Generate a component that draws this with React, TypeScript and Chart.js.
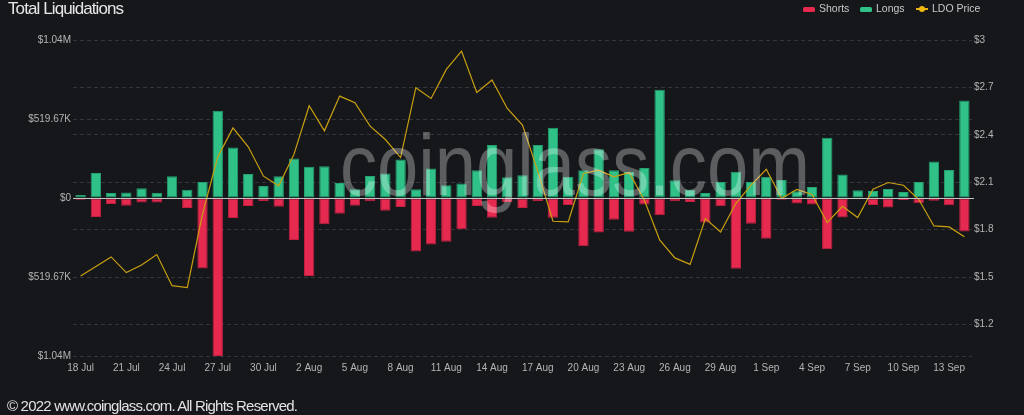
import React, { useEffect, useRef } from "react";
import { Chart, registerables } from "chart.js";

Chart.register(...registerables);

// ---- data ----
const DATES = [
  "18 Jul", "19 Jul", "20 Jul", "21 Jul", "22 Jul", "23 Jul", "24 Jul", "25 Jul", "26 Jul", "27 Jul",
  "28 Jul", "29 Jul", "30 Jul", "31 Jul", "1 Aug", "2 Aug", "3 Aug", "4 Aug", "5 Aug", "6 Aug",
  "7 Aug", "8 Aug", "9 Aug", "10 Aug", "11 Aug", "12 Aug", "13 Aug", "14 Aug", "15 Aug", "16 Aug",
  "17 Aug", "18 Aug", "19 Aug", "20 Aug", "21 Aug", "22 Aug", "23 Aug", "24 Aug", "25 Aug", "26 Aug",
  "27 Aug", "28 Aug", "29 Aug", "30 Aug", "31 Aug", "1 Sep", "2 Sep", "3 Sep", "4 Sep", "5 Sep",
  "6 Sep", "7 Sep", "8 Sep", "9 Sep", "10 Sep", "11 Sep", "12 Sep", "13 Sep", "14 Sep",
];

// USD thousands
const LONGS_K = [
  20, 165, 33, 37, 64, 35, 143, 55, 106, 574,
  332, 158, 79, 143, 260, 205, 209, 99, 57, 145,
  161, 253, 57, 194, 84, 95, 183, 348, 136, 150,
  348, 462, 139, 183, 321, 183, 172, 198, 712, 117,
  55, 33, 106, 172, 106, 139, 119, 44, 73, 396,
  154, 51, 46, 59, 40, 106, 240, 185, 642,
];

// USD thousands (drawn below zero)
const SHORTS_K = [
  11, 125, 40, 51, 29, 29, 9, 66, 464, 1039.34,
  132, 53, 20, 57, 277, 513, 172, 103, 51, 22,
  84, 59, 352, 306, 288, 205, 53, 130, 26, 66,
  20, 130, 46, 317, 227, 143, 222, 42, 114, 22,
  26, 161, 55, 466, 169, 268, 11, 37, 42, 337,
  128, 9, 46, 62, 13, 35, 18, 48, 220,
];

const LDO_PRICE = [
  1.506, 1.566, 1.627, 1.528, 1.576, 1.642, 1.445, 1.433, 1.9, 2.26,
  2.444, 2.324, 2.138, 2.077, 2.276, 2.584, 2.425, 2.645, 2.603, 2.455,
  2.37, 2.256, 2.698, 2.63, 2.814, 2.93, 2.668, 2.747, 2.567, 2.461,
  2.17, 1.853, 1.849, 2.155, 2.176, 2.134, 2.161, 1.986, 1.735, 1.621,
  1.58, 1.87, 1.785, 1.965, 2.081, 2.182, 1.997, 2.054, 2.022, 1.845,
  1.948, 1.876, 2.056, 2.098, 2.081, 1.992, 1.823, 1.817, 1.754,
];

const LEFT_TICKS = [-1039340, -519670, 0, 519670, 1039340];
const LEFT_TICK_LABELS = ["$1.04M", "$519.67K", "$0", "$519.67K", "$1.04M"];
const RIGHT_TICKS = [1.2, 1.5, 1.8, 2.1, 2.4, 2.7, 3];
const RIGHT_TICK_LABELS = ["$1.2", "$1.5", "$1.8", "$2.1", "$2.4", "$2.7", "$3"];
const RIGHT_MIN = 1;
const RIGHT_MAX = 3;
const LABEL_EVERY = 3;

// ---- styles ----
const BG = "#16171b";
const RED = "#e5294f";
const GREEN = "#2fc188";
const GOLD = "#c9a010";
const GRID = "#34353b";
const TICK_COLOR = "#b4b4b4";
const FONT = '"Liberation Sans", Arial, sans-serif';

const overlayPlugin = {
  id: "overlay",
  afterDatasetsDraw(chart: any) {
    const { ctx, chartArea } = chart;
    const y = chart.scales.y.getPixelForValue(0);
    ctx.save();
    ctx.strokeStyle = "#c4c4c4";
    ctx.lineWidth = 1;
    ctx.beginPath();
    ctx.moveTo(chartArea.left, Math.round(y) + 0.5);
    ctx.lineTo(chartArea.right + 2, Math.round(y) + 0.5);
    ctx.stroke();

    // watermark
    const text = "coinglass.com";
    ctx.font = `87px ${FONT}`;
    const w = ctx.measureText(text).width;
    const targetW = 470;
    const x0 = chartArea.left + 267;
    const base = chartArea.top + 155;
    ctx.translate(x0, base);
    ctx.scale(targetW / w, 1);
    ctx.fillStyle = "rgba(255,255,255,0.3)";
    ctx.textBaseline = "alphabetic";
    ctx.textAlign = "left";
    ctx.fillText(text, 0, 0);
    ctx.restore();
  },
};

export default function App() {
  const ref = useRef<HTMLCanvasElement>(null);

  useEffect(() => {
    if (!ref.current) return;
    const tickFont = { family: FONT, size: 10 };
    const chart = new Chart(ref.current, {
      type: "bar",
      data: {
        labels: DATES,
        datasets: [
          {
            type: "line",
            label: "LDO Price",
            data: LDO_PRICE,
            yAxisID: "y1",
            borderColor: GOLD,
            backgroundColor: GOLD,
            borderWidth: 1.2,
            pointRadius: 0,
            tension: 0,
            order: 0,
          } as any,
          {
            label: "Shorts",
            data: SHORTS_K.map((v) => -v * 1000),
            backgroundColor: RED,
            borderColor: "#c01f40",
            borderWidth: 1,
            borderSkipped: false,
            yAxisID: "y",
            barPercentage: 0.68,
            categoryPercentage: 1,
            order: 1,
          },
          {
            label: "Longs",
            data: LONGS_K.map((v) => v * 1000),
            backgroundColor: GREEN,
            borderColor: "#25a070",
            borderWidth: 1,
            borderSkipped: false,
            yAxisID: "y",
            barPercentage: 0.68,
            categoryPercentage: 1,
            order: 1,
          },
        ],
      },
      options: {
        responsive: false,
        animation: false,
        layout: { padding: { top: 40, bottom: 35, left: 0, right: 0 } },
        plugins: {
          legend: { display: false },
          tooltip: { enabled: false },
          title: { display: false },
        },
        scales: {
          x: {
            stacked: true,
            grid: { display: false, drawTicks: false },
            border: { display: false },
            ticks: {
              autoSkip: false,
              maxRotation: 0,
              minRotation: 0,
              padding: 6,
              color: TICK_COLOR,
              font: tickFont,
              callback: (_v: any, i: number) => (i % LABEL_EVERY === 0 ? DATES[i] : ""),
            },
            afterFit: (s: any) => {
              s.height = 24;
            },
          },
          y: {
            position: "left",
            stacked: true,
            min: LEFT_TICKS[0],
            max: LEFT_TICKS[LEFT_TICKS.length - 1],
            afterBuildTicks: (s: any) => {
              s.ticks = LEFT_TICKS.map((v) => ({ value: v }));
            },
            grid: { color: GRID, drawTicks: false, lineWidth: 1 },
            border: { display: false, dash: [4, 3] },
            ticks: {
              padding: 2,
              color: TICK_COLOR,
              font: tickFont,
              callback: (v: any) => LEFT_TICK_LABELS[LEFT_TICKS.indexOf(Number(v))] ?? "",
            },
            afterFit: (s: any) => {
              s.width = 73;
            },
          },
          y1: {
            position: "right",
            min: RIGHT_MIN,
            max: RIGHT_MAX,
            afterBuildTicks: (s: any) => {
              s.ticks = RIGHT_TICKS.map((v) => ({ value: v }));
            },
            grid: { color: GRID, drawTicks: false, lineWidth: 1 },
            border: { display: false, dash: [4, 3] },
            ticks: {
              padding: 2,
              color: TICK_COLOR,
              font: tickFont,
              callback: (v: any) => RIGHT_TICK_LABELS[RIGHT_TICKS.indexOf(Number(v))] ?? "",
            },
            afterFit: (s: any) => {
              s.width = 52;
            },
          },
        },
      } as any,
      plugins: [overlayPlugin],
    });
    return () => chart.destroy();
  }, []);

  const legendText: React.CSSProperties = {
    position: "absolute",
    top: 2,
    fontSize: 10.5,
    lineHeight: "13px",
    color: "#c8c8c8",
    whiteSpace: "nowrap",
  };

  return (
    <div
      style={{
        position: "fixed",
        left: 0,
        top: 0,
        width: 1024,
        height: 415,
        background: BG,
        overflow: "hidden",
        fontFamily: FONT,
      }}
    >
      <canvas
        ref={ref}
        width={1024}
        height={415}
        style={{ position: "absolute", left: 0, top: 0, width: 1024, height: 415 }}
      />
      <div
        style={{
          position: "absolute",
          left: 8,
          top: -1.5,
          fontSize: 17,
          lineHeight: "20px",
          letterSpacing: "-0.9px",
          color: "#e6e6e6",
          whiteSpace: "nowrap",
        }}
      >
        Total Liquidations
      </div>

      <div style={{ position: "absolute", left: 803, top: 6.5, width: 12, height: 5, borderRadius: 1.5, background: RED }} />
      <div style={{ ...legendText, left: 819 }}>Shorts</div>
      <div style={{ position: "absolute", left: 860, top: 6.5, width: 12, height: 5, borderRadius: 1.5, background: GREEN }} />
      <div style={{ ...legendText, left: 876 }}>Longs</div>
      <div style={{ position: "absolute", left: 916, top: 8, width: 12, height: 1.5, background: "#e8b00c" }} />
      <div
        style={{
          position: "absolute",
          left: 919,
          top: 5.7,
          width: 6,
          height: 6,
          borderRadius: 3,
          background: "#f2b90e",
        }}
      />
      <div style={{ ...legendText, left: 932 }}>LDO Price</div>

      <div
        style={{
          position: "absolute",
          left: 7,
          top: 396.5,
          fontSize: 15,
          lineHeight: "17px",
          letterSpacing: "-0.8px",
          color: "#e2e2e2",
          whiteSpace: "nowrap",
        }}
      >
        © 2022 www.coinglass.com. All Rights Reserved.
      </div>
    </div>
  );
}
